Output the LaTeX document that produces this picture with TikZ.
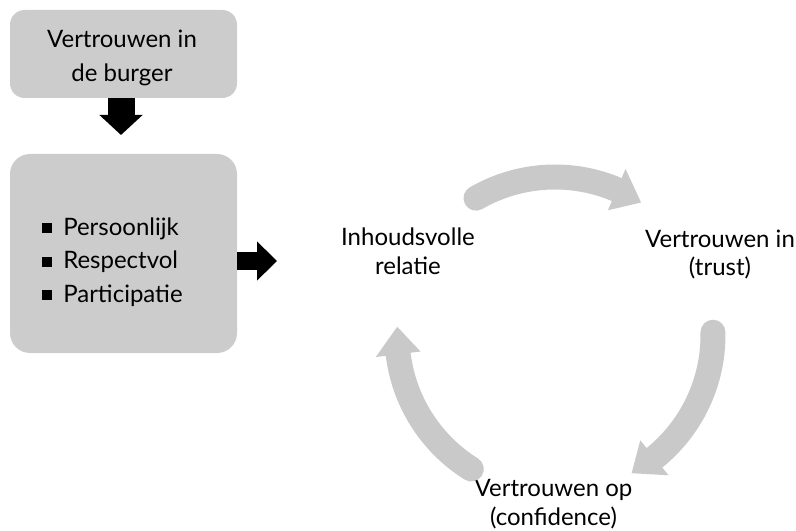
\documentclass[tikz,border=0pt]{standalone}
\usepackage{fontspec}
\setmainfont{Lato}
\usetikzlibrary{arrows.meta,calc}
\newcommand\sqbul{\raisebox{1.5pt}{\rule{7.5pt}{7.5pt}}\hspace{8.25pt}}
\newcommand\cycarrow[2]{%
  \draw[cycband] ($(C)+(#1:158)$) arc[start angle=#1, end angle=#2+9, radius=158];
  \fill[cycfill] ($(C)+(#2+10:135.5)$) -- ($(C)+(#2:158)$) -- ($(C)+(#2+10:180.5)$) -- cycle;
}
\begin{document}
\begin{tikzpicture}[x=0.75pt,y=0.75pt,
  box/.style={fill=gray!40, draw=none, inner sep=0pt},
  boxtext/.style={font=\fontsize{18}{25.5}\selectfont, align=center, inner sep=0pt},
  listtext/.style={font=\fontsize{18}{25.1}\selectfont, align=left, inner sep=0pt},
  lbl/.style={font=\fontsize{18}{21.4}\selectfont, align=center, inner sep=0pt},
  cycband/.style={draw=gray!42, line width=18.75pt, line cap=round},
  cycfill/.style={fill=gray!42}]
\useasboundingbox (0,0) rectangle (796,-531);
% boxes
\node[box, rounded corners=11pt, minimum width=170.25pt, minimum height=66pt] (top) at (123.5,-54) {};
\node[boxtext] (toptext) at (122,-57.5) {Vertrouwen in\\de burger};
\node[box, rounded corners=15pt, minimum width=170.25pt, minimum height=149.25pt] (mid) at (123.5,-253.5) {};
\node[listtext, anchor=west] (list) at (42,-262) {\sqbul Persoonlijk\\\sqbul Respectvol\\\sqbul Participatie};
% block arrows
\coordinate (dtip) at (121,-135);
\coordinate (rtip) at (277,-261);
\draw[line width=20.25pt, -{Triangle[length=15pt,width=31.5pt]}] (top.south -| dtip) -- (dtip);
\draw[line width=13.5pt, -{Triangle[length=15pt,width=28.5pt]}] (mid.east |- rtip) -- (rtip);
% cycle labels
\node[lbl] (rel) at (408,-251.4) {Inhoudsvolle\\relatie};
\node[lbl] (trust) at (720,-254.4) {Vertrouwen in\\(trust)};
\node[lbl] (conf) at (553.5,-504.4) {Vertrouwen op\\(confidence)};
% cycle arrows
\coordinate (C) at (555,-335);
\cycarrow{120}{57}
\cycarrow{1}{-61}
\cycarrow{238}{177}
\end{tikzpicture}
\end{document}
